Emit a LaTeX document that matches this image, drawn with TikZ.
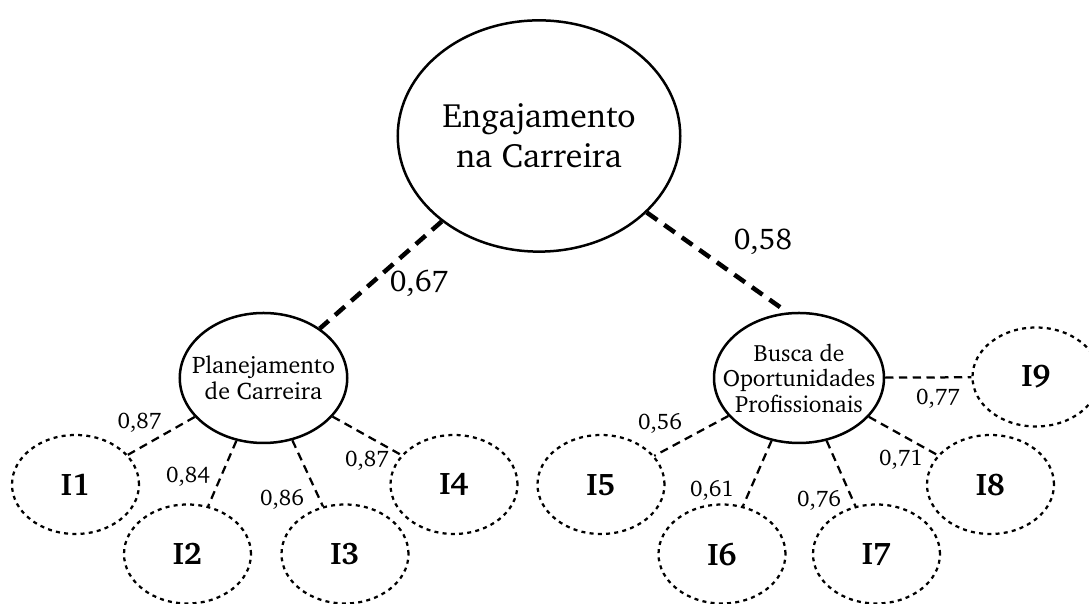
\documentclass[tikz,border=0pt]{standalone}
\usepackage[T1]{fontenc}
\usepackage{charter}
\usetikzlibrary{shapes.geometric}
\tikzset {
    factor/.style = {ellipse, draw, line width = 1pt, inner sep = 0pt},
    factor text/.style = {align = center, inner sep = 0pt},
    item/.style = {
        ellipse, draw, line width = 0.9pt,
        dash pattern = on 1.6pt off 1.7pt,
        minimum width = 50.8pt, minimum height = 39.6pt, inner sep = 0pt,
        font = \fontsize{12.5}{15}\selectfont\bfseries
    },
    load/.style = {line width = 0.9pt, dash pattern = on 3.3pt off 2.2pt},
    second order/.style = {line width = 1.8pt, dash pattern = on 5.2pt off 3.4pt},
    coef/.style = {inner sep = 0pt, font = \fontsize{9}{11}\selectfont},
    coef big/.style = {inner sep = 0pt, font = \fontsize{12}{15}\selectfont}
}
\begin{document}
\begin{tikzpicture}[x = 0.4pt, y = -0.4pt]
    \useasboundingbox (0, 0) rectangle (1089, 604);
    % factors
    \node (eng) [factor, minimum width = 113pt, minimum height = 92.5pt,
        label = {[factor text, font = \fontsize{13.5}{16}\selectfont]center:Engajamento\\na Carreira}]
        at (539, 136) {};
    \node (plan) [factor, minimum width = 67pt, minimum height = 52pt,
        label = {[factor text, font = \fontsize{9.6}{10.2}\selectfont]center:Planejamento\\de Carreira}]
        at (263.5, 378) {};
    \node (busca) [factor, minimum width = 68pt, minimum height = 52pt,
        label = {[factor text, font = \fontsize{9.4}{10.2}\selectfont]center:Busca de\\Oportunidades\\Profissionais}]
        at (799, 378) {};
    % items
    \node (i1) [item] at (75.5, 484.5) {I1};
    \node (i2) [item] at (187.5, 554) {I2};
    \node (i3) [item] at (345, 554) {I3};
    \node (i4) [item] at (454, 484.5) {I4};
    \node (i5) [item] at (601, 484.5) {I5};
    \node (i6) [item] at (722, 554) {I6};
    \node (i7) [item] at (876.5, 554) {I7};
    \node (i8) [item] at (990.5, 484.5) {I8};
    \node (i9) [item] at (1036, 377) {I9};
    % paths
    \draw [second order] (eng) -- (plan);
    \draw [second order, shorten > = 1.5pt] (eng) -- (busca.100);
    \foreach \i in {1, 2, 3, 4}
        \draw [load] (plan) -- (i\i);
    \foreach \i in {5, 6, 7, 8, 9}
        \draw [load] (busca) -- (i\i);
    % coefficients
    \node (c67) [coef big] at (419, 283) {0,67};
    \node (c58) [coef big] at (763, 242) {0,58};
    \node (c1) [coef] at (139.5, 423) {0,87};
    \node (c2) [coef] at (188, 477) {0,84};
    \node (c3) [coef] at (282, 499) {0,86};
    \node (c4) [coef] at (367, 461) {0,87};
    \node (c5) [coef] at (660, 423) {0,56};
    \node (c6) [coef] at (712, 490) {0,61};
    \node (c7) [coef] at (819, 500) {0,76};
    \node (c8) [coef] at (901, 460) {0,71};
    \node (c9) [coef] at (938, 399) {0,77};
\end{tikzpicture}
\end{document}
